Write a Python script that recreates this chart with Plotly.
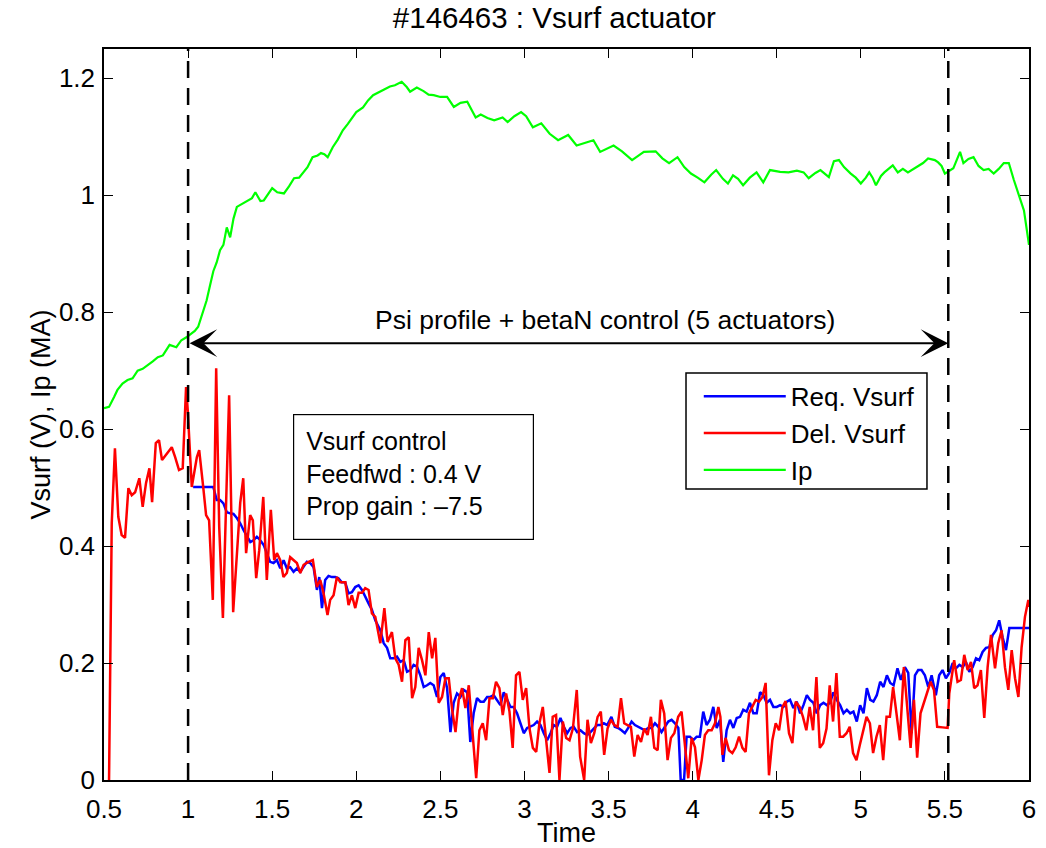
import plotly.graph_objects as go

# ---- Ip (MA) ----
ip_t = [0.500, 0.530, 0.560, 0.580, 0.610, 0.640, 0.670, 0.700, 0.730, 0.760, 0.790, 0.820,
        0.850, 0.870, 0.890, 0.930, 0.960, 0.990, 1.010, 1.040, 1.060, 1.090, 1.110, 1.130,
        1.150, 1.170, 1.190, 1.210, 1.230, 1.250, 1.270, 1.290, 1.320, 1.350, 1.380, 1.400,
        1.430, 1.450, 1.470, 1.500, 1.530, 1.570, 1.600, 1.630, 1.660, 1.690, 1.710, 1.740,
        1.770, 1.790, 1.810, 1.830, 1.860, 1.890, 1.920, 1.950, 1.980, 2.000, 2.040, 2.070,
        2.100, 2.130, 2.160, 2.200, 2.230, 2.270, 2.300, 2.320, 2.360, 2.400, 2.430, 2.460,
        2.500, 2.540, 2.580, 2.620, 2.660, 2.710, 2.740, 2.780, 2.820, 2.870, 2.900, 2.940,
        2.980, 3.010, 3.050, 3.100, 3.150, 3.200, 3.260, 3.310, 3.360, 3.410, 3.450, 3.490,
        3.530, 3.580, 3.640, 3.680, 3.710, 3.780, 3.820, 3.860, 3.910, 3.950, 3.990, 4.030,
        4.070, 4.110, 4.140, 4.180, 4.210, 4.240, 4.270, 4.300, 4.340, 4.380, 4.420, 4.460,
        4.520, 4.570, 4.620, 4.660, 4.690, 4.730, 4.760, 4.810, 4.840, 4.870, 4.900, 4.940,
        4.970, 5.000, 5.030, 5.050, 5.070, 5.090, 5.120, 5.140, 5.190, 5.220, 5.250, 5.280,
        5.330, 5.370, 5.400, 5.440, 5.460, 5.480, 5.500, 5.530, 5.550, 5.570, 5.590, 5.610,
        5.640, 5.670, 5.700, 5.730, 5.760, 5.790, 5.820, 5.850, 5.880, 5.910, 5.940, 5.970,
        6.000]
ip_v = [0.636, 0.638, 0.655, 0.667, 0.678, 0.684, 0.687, 0.700, 0.703, 0.709, 0.716, 0.723,
        0.726, 0.735, 0.744, 0.740, 0.752, 0.757, 0.761, 0.768, 0.775, 0.803, 0.820, 0.845,
        0.870, 0.885, 0.906, 0.915, 0.945, 0.928, 0.960, 0.980, 0.985, 0.991, 0.995, 1.005,
        0.990, 0.991, 1.000, 1.012, 1.005, 1.003, 1.015, 1.029, 1.030, 1.040, 1.048, 1.065,
        1.068, 1.072, 1.070, 1.065, 1.082, 1.095, 1.111, 1.122, 1.133, 1.142, 1.150, 1.162,
        1.171, 1.176, 1.180, 1.186, 1.188, 1.194, 1.185, 1.177, 1.184, 1.178, 1.172, 1.171,
        1.168, 1.168, 1.151, 1.158, 1.160, 1.133, 1.138, 1.132, 1.128, 1.133, 1.125, 1.135,
        1.142, 1.135, 1.116, 1.123, 1.105, 1.094, 1.103, 1.085, 1.090, 1.094, 1.074, 1.080,
        1.085, 1.075, 1.060, 1.068, 1.074, 1.075, 1.063, 1.055, 1.065, 1.048, 1.037, 1.030,
        1.022, 1.035, 1.043, 1.028, 1.020, 1.034, 1.028, 1.017, 1.030, 1.039, 1.022, 1.043,
        1.040, 1.039, 1.042, 1.039, 1.029, 1.038, 1.043, 1.031, 1.058, 1.060, 1.048, 1.037,
        1.030, 1.020, 1.030, 1.039, 1.030, 1.017, 1.033, 1.039, 1.051, 1.039, 1.045, 1.039,
        1.048, 1.055, 1.063, 1.060, 1.056, 1.050, 1.037, 1.042, 1.046, 1.060, 1.074, 1.055,
        1.062, 1.065, 1.050, 1.043, 1.045, 1.037, 1.045, 1.055, 1.055, 1.026, 1.000, 0.974,
        0.915]

# ---- Requested surface voltage (V) ----
req_t = [1.030, 1.150, 1.170, 1.190, 1.210, 1.230, 1.250, 1.270, 1.290, 1.310, 1.330, 1.350,
         1.370, 1.389, 1.409, 1.429, 1.449, 1.468, 1.488, 1.508, 1.528, 1.548, 1.568, 1.587,
         1.607, 1.627, 1.647, 1.667, 1.687, 1.706, 1.726, 1.746, 1.766, 1.780, 1.796, 1.815,
         1.835, 1.855, 1.875, 1.894, 1.914, 1.934, 1.954, 1.974, 1.994, 2.014, 2.034, 2.053,
         2.073, 2.093, 2.113, 2.143, 2.163, 2.183, 2.202, 2.222, 2.242, 2.262, 2.282, 2.302,
         2.322, 2.341, 2.361, 2.381, 2.401, 2.421, 2.440, 2.460, 2.480, 2.500, 2.520, 2.540,
         2.560, 2.579, 2.599, 2.619, 2.639, 2.659, 2.678, 2.698, 2.718, 2.738, 2.758, 2.778,
         2.797, 2.817, 2.837, 2.857, 2.877, 2.897, 2.917, 2.936, 2.956, 2.976, 2.996, 3.016,
         3.036, 3.055, 3.075, 3.095, 3.115, 3.135, 3.155, 3.174, 3.194, 3.214, 3.234, 3.254,
         3.274, 3.293, 3.313, 3.333, 3.353, 3.373, 3.393, 3.413, 3.432, 3.452, 3.472, 3.492,
         3.517, 3.537, 3.557, 3.577, 3.597, 3.617, 3.637, 3.657, 3.677, 3.696, 3.716, 3.736,
         3.756, 3.776, 3.796, 3.815, 3.835, 3.855, 3.875, 3.895, 3.915, 3.929, 3.949, 3.964,
         3.984, 4.004, 4.024, 4.043, 4.063, 4.083, 4.103, 4.123, 4.143, 4.163, 4.182, 4.202,
         4.222, 4.242, 4.262, 4.282, 4.301, 4.321, 4.341, 4.361, 4.381, 4.401, 4.421, 4.440,
         4.460, 4.480, 4.500, 4.520, 4.540, 4.560, 4.579, 4.599, 4.619, 4.639, 4.659, 4.679,
         4.698, 4.718, 4.738, 4.758, 4.778, 4.798, 4.817, 4.837, 4.857, 4.877, 4.897, 4.917,
         4.937, 4.956, 4.976, 4.996, 5.016, 5.036, 5.056, 5.075, 5.095, 5.115, 5.135, 5.155,
         5.175, 5.195, 5.218, 5.238, 5.262, 5.282, 5.302, 5.322, 5.341, 5.361, 5.381, 5.401,
         5.421, 5.446, 5.466, 5.486, 5.506, 5.526, 5.546, 5.566, 5.586, 5.606, 5.625, 5.645,
         5.665, 5.685, 5.704, 5.724, 5.744, 5.764, 5.784, 5.804, 5.823, 5.843, 5.863, 5.883,
         6.000]
req_v = [0.501, 0.501, 0.479, 0.479, 0.473, 0.458, 0.456, 0.455, 0.448, 0.439, 0.427, 0.416,
         0.407, 0.410, 0.416, 0.410, 0.402, 0.388, 0.373, 0.371, 0.376, 0.362, 0.376, 0.362,
         0.364, 0.356, 0.362, 0.356, 0.364, 0.373, 0.371, 0.364, 0.325, 0.347, 0.294, 0.342,
         0.349, 0.347, 0.347, 0.345, 0.338, 0.338, 0.319, 0.321, 0.330, 0.333, 0.325, 0.313,
         0.302, 0.291, 0.273, 0.256, 0.234, 0.226, 0.208, 0.208, 0.211, 0.202, 0.205, 0.185,
         0.188, 0.197, 0.194, 0.179, 0.159, 0.162, 0.166, 0.162, 0.142, 0.176, 0.183, 0.157,
         0.082, 0.132, 0.148, 0.142, 0.154, 0.150, 0.065, 0.114, 0.140, 0.134, 0.134, 0.142,
         0.142, 0.145, 0.137, 0.128, 0.150, 0.137, 0.125, 0.125, 0.114, 0.097, 0.080, 0.089,
         0.091, 0.094, 0.100, 0.094, 0.080, 0.068, 0.080, 0.094, 0.091, 0.106, 0.091, 0.080,
         0.089, 0.091, 0.082, 0.085, 0.080, 0.077, 0.082, 0.089, 0.094, 0.094, 0.097, 0.094,
         0.108, 0.091, 0.089, 0.085, 0.080, 0.089, 0.100, 0.094, 0.091, 0.089, 0.085, 0.089,
         0.089, 0.097, 0.091, 0.082, 0.091, 0.100, 0.103, 0.097, 0.089, 0.000, 0.000, 0.074,
         0.074, 0.068, 0.074, 0.074, 0.117, 0.094, 0.103, 0.125, 0.089, 0.103, 0.031, 0.085,
         0.103, 0.089, 0.106, 0.108, 0.120, 0.117, 0.132, 0.114, 0.114, 0.150, 0.145, 0.132,
         0.137, 0.125, 0.125, 0.128, 0.125, 0.134, 0.137, 0.123, 0.134, 0.114, 0.128, 0.145,
         0.137, 0.132, 0.114, 0.128, 0.132, 0.128, 0.132, 0.150, 0.137, 0.128, 0.114, 0.120,
         0.114, 0.117, 0.100, 0.128, 0.114, 0.157, 0.137, 0.134, 0.145, 0.168, 0.159, 0.179,
         0.166, 0.162, 0.191, 0.171, 0.193, 0.183, 0.080, 0.179, 0.188, 0.188, 0.179, 0.159,
         0.179, 0.145, 0.179, 0.188, 0.174, 0.183, 0.200, 0.191, 0.197, 0.193, 0.202, 0.185,
         0.193, 0.208, 0.205, 0.219, 0.226, 0.227, 0.248, 0.256, 0.273, 0.244, 0.222, 0.260,
         0.260]

# ---- Delivered surface voltage (V) ----
del_t = [0.530, 0.546, 0.565, 0.585, 0.605, 0.625, 0.645, 0.665, 0.685, 0.710, 0.730, 0.750,
         0.770, 0.786, 0.808, 0.827, 0.845, 0.873, 0.903, 0.923, 0.946, 0.968, 0.988, 0.998,
         1.022, 1.052, 1.066, 1.090, 1.107, 1.125, 1.147, 1.167, 1.185, 1.207, 1.226, 1.244,
         1.268, 1.290, 1.310, 1.328, 1.345, 1.369, 1.385, 1.405, 1.423, 1.447, 1.468, 1.492,
         1.512, 1.528, 1.548, 1.567, 1.587, 1.607, 1.627, 1.647, 1.667, 1.687, 1.716, 1.742,
         1.766, 1.786, 1.805, 1.829, 1.845, 1.865, 1.885, 1.905, 1.935, 1.954, 1.974, 1.994,
         2.014, 2.034, 2.053, 2.073, 2.093, 2.113, 2.143, 2.167, 2.186, 2.212, 2.232, 2.252,
         2.272, 2.292, 2.312, 2.332, 2.351, 2.371, 2.391, 2.411, 2.431, 2.451, 2.470, 2.490,
         2.510, 2.530, 2.550, 2.570, 2.590, 2.609, 2.629, 2.649, 2.669, 2.689, 2.713, 2.732,
         2.752, 2.772, 2.792, 2.812, 2.831, 2.851, 2.871, 2.891, 2.911, 2.930, 2.950, 2.970,
         2.990, 3.010, 3.030, 3.050, 3.070, 3.089, 3.109, 3.129, 3.149, 3.168, 3.188, 3.208,
         3.228, 3.248, 3.268, 3.288, 3.311, 3.331, 3.355, 3.375, 3.395, 3.415, 3.435, 3.454,
         3.474, 3.494, 3.514, 3.534, 3.554, 3.574, 3.593, 3.613, 3.633, 3.653, 3.673, 3.693,
         3.712, 3.732, 3.752, 3.772, 3.792, 3.811, 3.831, 3.851, 3.871, 3.891, 3.914, 3.934,
         3.954, 3.974, 3.994, 4.014, 4.034, 4.054, 4.073, 4.093, 4.113, 4.133, 4.153, 4.165,
         4.177, 4.196, 4.216, 4.236, 4.256, 4.276, 4.296, 4.315, 4.335, 4.355, 4.375, 4.395,
         4.415, 4.434, 4.454, 4.474, 4.494, 4.514, 4.534, 4.553, 4.573, 4.593, 4.613, 4.636,
         4.656, 4.676, 4.696, 4.716, 4.736, 4.756, 4.776, 4.796, 4.815, 4.835, 4.855, 4.875,
         4.895, 4.915, 4.934, 4.954, 4.974, 4.994, 5.014, 5.034, 5.054, 5.073, 5.093, 5.113,
         5.133, 5.153, 5.173, 5.192, 5.212, 5.232, 5.256, 5.276, 5.296, 5.316, 5.335, 5.355,
         5.375, 5.395, 5.415, 5.435, 5.454, 5.486, 5.516, 5.526, 5.540, 5.555, 5.575, 5.595,
         5.615, 5.635, 5.655, 5.674, 5.694, 5.714, 5.734, 5.754, 5.774, 5.798, 5.817, 5.837,
         5.857, 5.877, 5.897, 5.917, 5.937, 5.956, 5.976, 5.996, 6.000]
del_v = [0.000, 0.439, 0.567, 0.450, 0.419, 0.414, 0.499, 0.487, 0.492, 0.516, 0.467, 0.508,
         0.533, 0.475, 0.576, 0.581, 0.547, 0.558, 0.569, 0.552, 0.530, 0.533, 0.672, 0.632,
         0.501, 0.552, 0.564, 0.501, 0.453, 0.444, 0.308, 0.704, 0.433, 0.277, 0.474, 0.658,
         0.287, 0.376, 0.474, 0.516, 0.388, 0.453, 0.444, 0.345, 0.393, 0.484, 0.342, 0.462,
         0.376, 0.388, 0.376, 0.347, 0.354, 0.381, 0.376, 0.371, 0.354, 0.368, 0.373, 0.376,
         0.330, 0.342, 0.320, 0.282, 0.308, 0.316, 0.347, 0.338, 0.338, 0.299, 0.316, 0.294,
         0.320, 0.320, 0.328, 0.325, 0.285, 0.279, 0.234, 0.294, 0.236, 0.253, 0.208, 0.197,
         0.168, 0.239, 0.244, 0.140, 0.159, 0.226, 0.205, 0.179, 0.253, 0.208, 0.243, 0.132,
         0.142, 0.174, 0.174, 0.120, 0.082, 0.137, 0.157, 0.123, 0.162, 0.091, 0.003, 0.085,
         0.097, 0.068, 0.140, 0.140, 0.168, 0.157, 0.111, 0.148, 0.117, 0.055, 0.179, 0.185,
         0.137, 0.157, 0.088, 0.055, 0.048, 0.097, 0.125, 0.068, 0.012, 0.108, 0.111, 0.000,
         0.100, 0.072, 0.068, 0.088, 0.154, 0.040, 0.000, 0.103, 0.063, 0.080, 0.108, 0.117,
         0.043, 0.088, 0.103, 0.094, 0.091, 0.140, 0.097, 0.094, 0.091, 0.040, 0.077, 0.065,
         0.088, 0.077, 0.108, 0.055, 0.051, 0.137, 0.114, 0.034, 0.072, 0.080, 0.108, 0.117,
         0.056, 0.003, 0.072, 0.056, 0.000, 0.034, 0.077, 0.085, 0.085, 0.097, 0.125, 0.108,
         0.043, 0.072, 0.051, 0.046, 0.056, 0.074, 0.055, 0.048, 0.114, 0.125, 0.137, 0.134,
         0.142, 0.166, 0.008, 0.068, 0.097, 0.085, 0.125, 0.135, 0.080, 0.063, 0.134, 0.125,
         0.108, 0.085, 0.125, 0.085, 0.176, 0.055, 0.063, 0.088, 0.162, 0.100, 0.183, 0.074,
         0.074, 0.080, 0.091, 0.046, 0.034, 0.060, 0.085, 0.108, 0.097, 0.046, 0.074, 0.094,
         0.034, 0.108, 0.108, 0.159, 0.114, 0.068, 0.193, 0.125, 0.055, 0.137, 0.038, 0.114,
         0.132, 0.150, 0.168, 0.154, 0.091, 0.090, 0.089, 0.148, 0.174, 0.205, 0.168, 0.171,
         0.214, 0.188, 0.202, 0.157, 0.162, 0.188, 0.106, 0.193, 0.248, 0.191, 0.234, 0.256,
         0.193, 0.154, 0.222, 0.174, 0.142, 0.227, 0.279, 0.308, 0.296]

# control window and annotation content
control_start = 1.0
control_end = 5.52
window_label = "Psi profile + betaN control (5 actuators)"
box_lines = ["Vsurf control", "Feedfwd : 0.4 V", "Prop gain : \u20137.5"]

x_ticks = [0.5, 1, 1.5, 2, 2.5, 3, 3.5, 4, 4.5, 5, 5.5, 6]
x_tick_text = ["0.5", "1", "1.5", "2", "2.5", "3", "3.5", "4", "4.5", "5", "5.5", "6"]
y_ticks = [0, 0.2, 0.4, 0.6, 0.8, 1.0, 1.2]
y_tick_text = ["0", "0.2", "0.4", "0.6", "0.8", "1", "1.2"]

FONT = "Liberation Sans, Arial, Helvetica, sans-serif"

fig = go.Figure()
fig.add_trace(go.Scatter(x=req_t, y=req_v, mode="lines", name="Req. Vsurf",
                         line=dict(color="#0000ff", width=2.5)))
fig.add_trace(go.Scatter(x=del_t, y=del_v, mode="lines", name="Del. Vsurf",
                         line=dict(color="#ff0000", width=2.5)))
fig.add_trace(go.Scatter(x=ip_t, y=ip_v, mode="lines", name="Ip",
                         line=dict(color="#00ff00", width=2.2)))

# dashed markers of the control window
for xv in (control_start, control_end):
    fig.add_shape(type="line", xref="x", yref="y", x0=xv, x1=xv, y0=0, y1=1.25,
                  line=dict(color="black", width=2.5, dash="17px,10px"))

# frame drawn behind the legend entries
fig.add_shape(type="rect", xref="paper", yref="paper",
              x0=0.6292, x1=0.8897, y0=0.3981, y1=0.5568,
              line=dict(color="black", width=1.5), fillcolor="white", layer="above")

# double-headed arrow across the control window
fig.add_annotation(x=control_end, y=0.747, ax=control_start, ay=0.747,
                   xref="x", yref="y", axref="x", ayref="y", text="",
                   showarrow=True, arrowhead=3, startarrowhead=3, arrowside="end+start",
                   arrowsize=2.3, startarrowsize=2.3, arrowwidth=2, arrowcolor="black")
fig.add_annotation(x=3.48, y=0.786, xref="x", yref="y", text=window_label,
                   showarrow=False, font=dict(family=FONT, size=26.5, color="black"))

# controller settings box
fig.add_annotation(x=1.625, y=0.6256, xref="x", yref="y", xanchor="left", yanchor="top",
                   text="<br>".join(box_lines), showarrow=False, align="left", valign="top",
                   width=215, height=100, borderpad=12, bordercolor="black", borderwidth=1.2,
                   bgcolor="white", font=dict(family=FONT, size=25, color="black"))

fig.update_layout(
    width=1046, height=848,
    margin=dict(l=104, r=17, t=49, b=68, autoexpand=False),
    paper_bgcolor="white", plot_bgcolor="white",
    font=dict(family=FONT, size=26, color="black"),
    title=dict(text="#146463 : Vsurf actuator", x=0.53, xref="container", xanchor="center",
               y=1 - 18 / 848, yref="container", yanchor="middle",
               font=dict(family=FONT, size=29.5, color="black")),
    legend=dict(x=0.643, y=0.557, xanchor="left", yanchor="top",
                bgcolor="rgba(0,0,0,0)", borderwidth=0,
                font=dict(family=FONT, size=26, color="black"),
                itemwidth=82, tracegroupgap=0),
    showlegend=True,
)
fig.update_xaxes(range=[0.5, 6], tickmode="array", tickvals=x_ticks, ticktext=x_tick_text,
                 ticks="inside", ticklen=9, tickwidth=1, tickcolor="black",
                 showline=True, linecolor="black", linewidth=1.5, mirror="ticks",
                 showgrid=False, zeroline=False, ticklabelstandoff=5, automargin=False,
                 title=dict(text="Time", standoff=2, font=dict(family=FONT, size=27)),
                 tickfont=dict(family=FONT, size=26))
fig.update_yaxes(range=[0, 1.25], tickmode="array", tickvals=y_ticks, ticktext=y_tick_text,
                 ticks="inside", ticklen=9, tickwidth=1, tickcolor="black",
                 showline=True, linecolor="black", linewidth=1.5, mirror="ticks",
                 showgrid=False, zeroline=False, ticklabelstandoff=2, automargin=False,
                 title=dict(text="Vsurf (V), Ip (MA)", standoff=0, font=dict(family=FONT, size=27)),
                 tickfont=dict(family=FONT, size=26))

fig.write_html("out.html")
